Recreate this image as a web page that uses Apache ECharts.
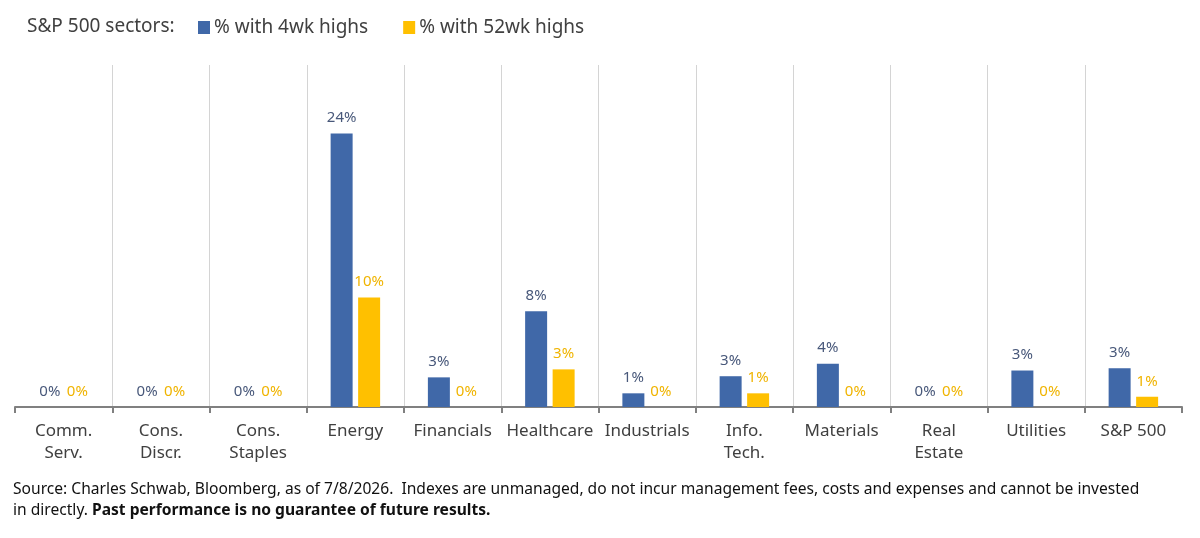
<!DOCTYPE html>
<html>
<head>
<meta charset="utf-8">
<script src="https://cdn.jsdelivr.net/npm/echarts@6/dist/echarts.min.js"></script>
<style>
  html, body { margin: 0; padding: 0; background: #fff; }
  #chart { width: 1200px; height: 538px; }
</style>
</head>
<body>
<div id="chart"></div>
<script>
var sectors = ['Comm.\nServ.', 'Cons.\nDiscr.', 'Cons.\nStaples', 'Energy', 'Financials', 'Healthcare',
	'Industrials', 'Info.\nTech.', 'Materials', 'Real\nEstate', 'Utilities', 'S&P 500'];
var highs4wk = [0, 0, 0, 24.0, 2.6, 8.4, 1.2, 2.7, 3.8, 0, 3.2, 3.4];
var highs52wk = [0, 0, 0, 9.6, 0, 3.3, 0, 1.2, 0, 0, 0, 0.9];

var FONT = '"Noto Sans", "Open Sans", sans-serif';

var myChart = echarts.init(document.getElementById('chart'));

function pct(p) {
	return Math.round(p.value) + '%';
}

var option = {
	backgroundColor: '#ffffff',
	animation: false,
	title: [{
		text: 'S&P 500 sectors:',
		left: 22,
		top: 12,
		textStyle: { fontFamily: FONT, fontSize: 19, fontWeight: 'normal', color: '#404040' }
	}, {
		text: 'Source: Charles Schwab, Bloomberg, as of 7/8/2026.  Indexes are unmanaged, do not incur management fees, costs and expenses and cannot be invested\n{n|in directly. }{b|Past performance is no guarantee of future results.}',
		left: 8,
		top: 474,
		textStyle: {
			fontFamily: FONT, fontSize: 15.6, fontWeight: 'normal', color: '#111111', lineHeight: 21,
			rich: {
				n: { fontFamily: FONT, fontSize: 15.6, color: '#111111', lineHeight: 21 },
				b: { fontFamily: FONT, fontSize: 15.6, color: '#111111', fontWeight: 'bold', lineHeight: 21 }
			}
		}
	}],
	legend: {
		left: 193,
		top: 13,
		itemWidth: 12,
		itemHeight: 13,
		itemGap: 35,
		icon: 'rect',
		textStyle: { fontFamily: FONT, fontSize: 19, color: '#404040', padding: [0, 0, 0, -1] },
		data: ['% with 4wk highs', '% with 52wk highs']
	},
	grid: { left: 15, right: 18, top: 65, bottom: 131, containLabel: false },
	xAxis: {
		type: 'category',
		data: sectors,
		axisLine: { lineStyle: { color: '#808080', width: 2 } },
		axisTick: { show: true, length: 6, lineStyle: { color: '#808080', width: 2 } },
		splitLine: { show: true, showMinLine: false, showMaxLine: false, lineStyle: { color: '#d4d4d4', width: 1 } },
		axisLabel: { fontFamily: FONT, fontSize: 17, color: '#404040', lineHeight: 22, margin: 13, interval: 0 }
	},
	yAxis: { type: 'value', show: false, min: 0, max: 30 },
	series: [{
		name: '% with 4wk highs',
		type: 'bar',
		barWidth: 22,
		barGap: '25%',
		data: highs4wk,
		itemStyle: { color: '#4068a8' },
		label: { show: true, position: 'top', distance: 8, formatter: pct, fontFamily: FONT, fontSize: 15, color: '#48587a' }
	}, {
		name: '% with 52wk highs',
		type: 'bar',
		barWidth: 22,
		data: highs52wk,
		itemStyle: { color: '#ffc000' },
		label: { show: true, position: 'top', distance: 8, formatter: pct, fontFamily: FONT, fontSize: 15, color: '#f0b400' }
	}]
};

myChart.setOption(option, true);
</script>
</body>
</html>
